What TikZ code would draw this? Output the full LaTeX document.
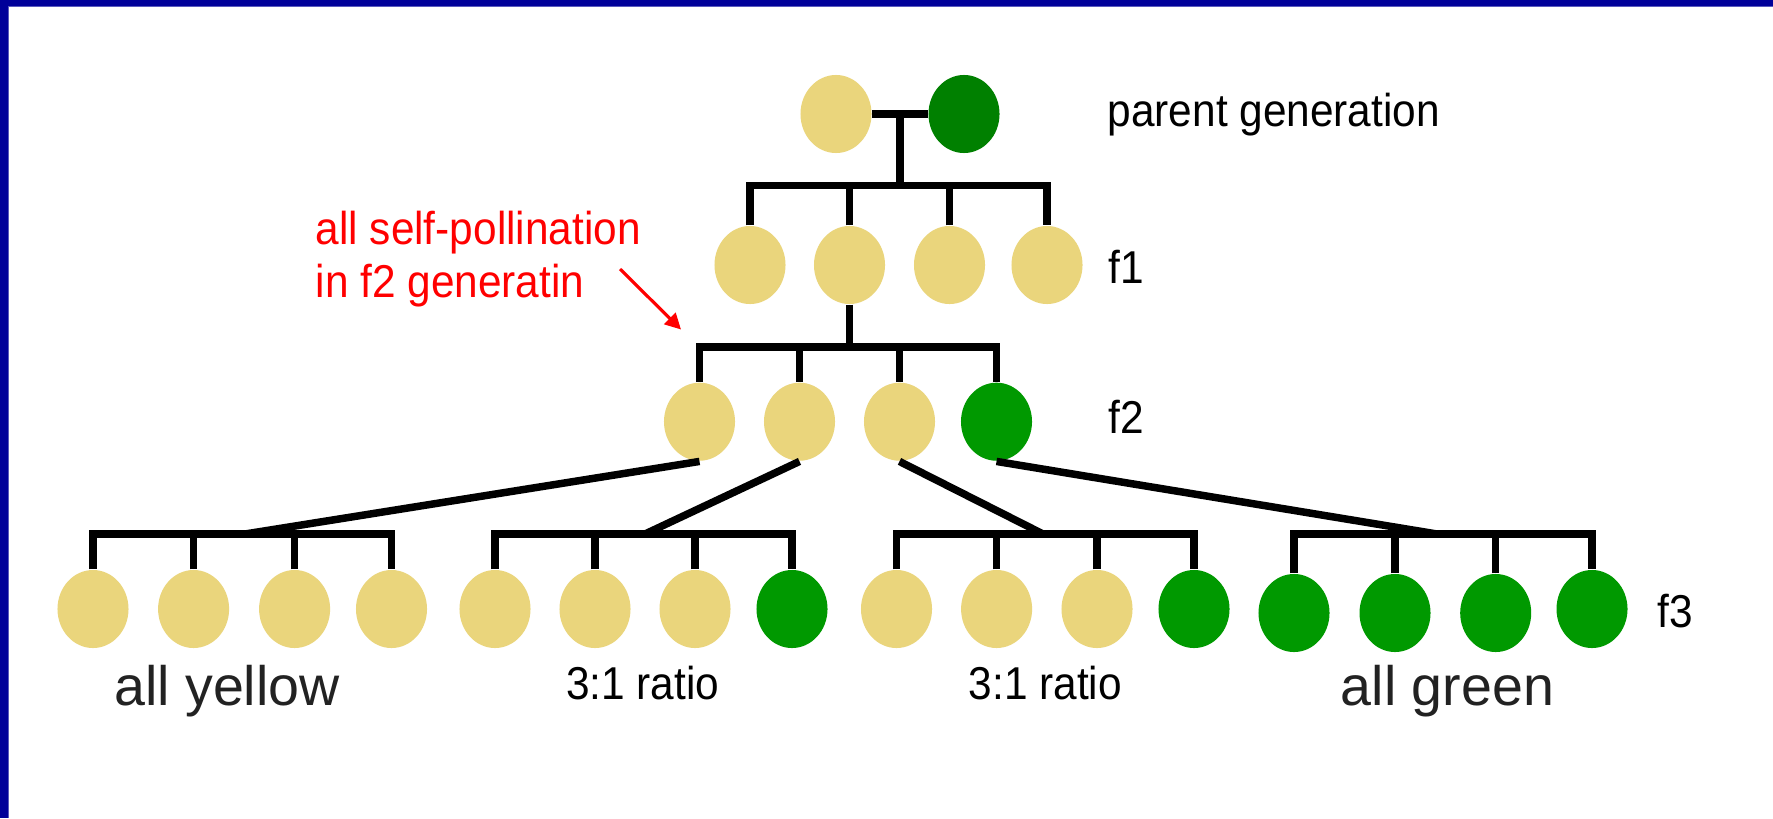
\documentclass[tikz,border=0pt]{standalone}
\usepackage{fontspec}
\setmainfont{Liberation Sans}
\newfontfamily\pixfont[FakeStretch=0.92]{Liberation Sans}
\usetikzlibrary{shapes.geometric,arrows.meta,calc}
\definecolor{pea}{RGB}{234,213,124}
\definecolor{podgreen}{RGB}{0,153,0}
\definecolor{darkpod}{RGB}{0,128,0}
\definecolor{frame}{RGB}{0,0,153}
\definecolor{frameedge}{RGB}{90,90,190}
\definecolor{caption}{RGB}{34,34,34}
\begin{document}
\begin{tikzpicture}[x=0.01cm,y=-0.01cm,
  seed/.style={ellipse,minimum width=0.71cm,minimum height=0.78cm,inner sep=0pt,draw=none},
  yseed/.style={seed,fill=pea},
  gseed/.style={seed,fill=podgreen},
  pgseed/.style={seed,fill=darkpod},
  link/.style={line width=2.13pt},
  lab/.style={font=\pixfont\fontsize{13.1}{15}\selectfont,anchor=base west,inner sep=0pt},
  big/.style={font=\fontsize{15.8}{19}\selectfont,text=caption,anchor=base,inner sep=0pt}]

% canvas and frame
\useasboundingbox (0,0) rectangle (1773,818);
\fill[white] (0,0) rectangle (1773,818);
\fill[frameedge] (0,0) rectangle (1773,7);
\fill[frameedge] (0,0) rectangle (9,818);
\fill[frame] (0,0) rectangle (1773,5.5);
\fill[frame] (0,0) rectangle (8,818);

% parent generation
\node[yseed]  (P1) at (836,114) {};
\node[pgseed] (P2) at (964,114) {};
\coordinate (pm) at ($(P1.east)!0.5!(P2.west)$);
\draw[link] (P1.east) -- (P2.west);

% f1
\node[yseed] (F1a) at (750,265) {};
\node[yseed] (F1b) at (849.5,265) {};
\node[yseed] (F1c) at (949.5,265) {};
\node[yseed] (F1d) at (1047,265) {};
\coordinate (bar1) at (900,185.5);
\draw[link] (pm) -- (pm |- bar1);
\draw[link] (F1a.north) -- (F1a.north |- bar1) -- (F1d.north |- bar1) -- (F1d.north);
\foreach \n in {F1b,F1c} \draw[link] (\n.north) -- (\n.north |- bar1);

% f2
\node[yseed] (F2a) at (699.5,421.7) {};
\node[yseed] (F2b) at (799.5,421.7) {};
\node[yseed] (F2c) at (899.5,421.7) {};
\node[gseed] (F2d) at (996.5,421.7) {};
\coordinate (bar2) at (849.5,347);
\draw[link] (F1b.south) -- (F1b.south |- bar2);
\draw[link] (F2a.north) -- (F2a.north |- bar2) -- (F2d.north |- bar2) -- (F2d.north);
\foreach \n in {F2b,F2c} \draw[link] (\n.north) -- (\n.north |- bar2);

% f3
\node[yseed] (G1a) at (93,609) {};
\node[yseed] (G1b) at (193.6,609) {};
\node[yseed] (G1c) at (294.6,609) {};
\node[yseed] (G1d) at (391.5,609) {};
\node[yseed] (G2a) at (495,609) {};
\node[yseed] (G2b) at (595,609) {};
\node[yseed] (G2c) at (695,609) {};
\node[gseed] (G2d) at (792,609) {};
\node[yseed] (G3a) at (896.5,609) {};
\node[yseed] (G3b) at (996.6,609) {};
\node[yseed] (G3c) at (1097,609) {};
\node[gseed] (G3d) at (1194,609) {};
\node[gseed] (G4a) at (1294,613) {};
\node[gseed] (G4b) at (1395,613) {};
\node[gseed] (G4c) at (1495.7,613) {};
\node[gseed] (G4d) at (1592,609) {};

\coordinate (bar3a) at (245,534);
\coordinate (bar3b) at (645,534);
\coordinate (bar3c) at (1043,534);
\coordinate (bar3d) at (1437,534);

\foreach \g/\j in {G1/bar3a,G2/bar3b,G3/bar3c,G4/bar3d}{
  \draw[link] (\g a.north) -- (\g a.north |- \j) -- (\g d.north |- \j) -- (\g d.north);
  \draw[link] (\g b.north) -- (\g b.north |- \j);
  \draw[link] (\g c.north) -- (\g c.north |- \j);
}
\draw[link] (F2a.south) -- (bar3a);
\draw[link] (F2b.south) -- (bar3b);
\draw[link] (F2c.south) -- (bar3c);
\draw[link] (F2d.south) -- (bar3d);

% generation labels
\node[lab] (tP) at (1107,126.7) {parent generation};
\node[lab] (t1) at (1108,283.3) {f1};
\node[lab] (t2) at (1108,433.3) {f2};
\node[lab] (t3) at (1657,627) {f3};

% note on self-pollination
\node[lab,text=red] (n1) at (315,244) {all self-pollination};
\node[lab,text=red] (n2) at (315,297.3) {in f2 generatin};
\coordinate (as) at (620,269);
\coordinate (ae) at (681,329.5);
\draw[red,line width=0.9pt,-{Triangle[length=4.5pt,width=4.5pt]}] (as) -- (ae);

% outcome captions
\node[lab] (r1) at (565.5,699) {3:1 ratio};
\node[lab] (r2) at (968,699) {3:1 ratio};
\node[big] (ay) at (227,705) {all yellow};
\node[big] (ag) at (1447.5,705) {all green};
\end{tikzpicture}
\end{document}
